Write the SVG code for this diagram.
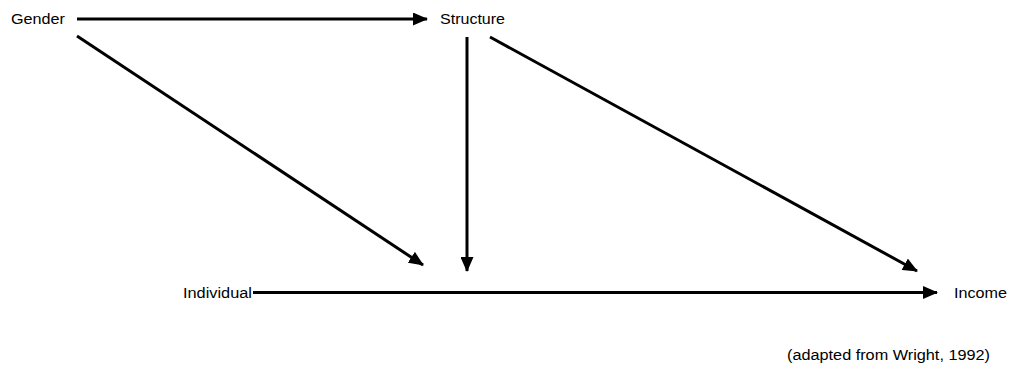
<svg xmlns="http://www.w3.org/2000/svg" width="1010" height="369" viewBox="0 0 1010 369">
<style>
text{font-family:"Liberation Sans",Arial,sans-serif;font-size:14px;fill:#000}
.c line{stroke:#000;stroke-width:3;fill:none;marker-end:url(#ah)}
</style>
<defs>
<marker id="ah" markerUnits="userSpaceOnUse" markerWidth="15" markerHeight="13" viewBox="0 0 15 13" refX="14" refY="6.5" orient="auto">
<path d="M0,0 L15,6.5 L0,13 z" fill="#000"/>
</marker>
</defs>
<rect width="1010" height="369" fill="#fff"/>
<g id="gender"><text x="11" y="24" textLength="54" lengthAdjust="spacingAndGlyphs">Gender</text></g>
<g id="structure"><text x="440" y="24" textLength="65" lengthAdjust="spacingAndGlyphs">Structure</text></g>
<g id="individual"><text x="183" y="298" textLength="69" lengthAdjust="spacingAndGlyphs">Individual</text></g>
<g id="income"><text x="954" y="298" textLength="53" lengthAdjust="spacingAndGlyphs">Income</text></g>
<g id="note"><text x="787" y="360" textLength="203" lengthAdjust="spacingAndGlyphs">(adapted from Wright, 1992)</text></g>
<g class="c" id="connectors">
<line x1="77" y1="19" x2="427" y2="19"/>
<line x1="77" y1="36" x2="423" y2="265"/>
<line x1="467" y1="37" x2="467" y2="271"/>
<line x1="490" y1="37" x2="917" y2="271"/>
<line x1="253" y1="292.5" x2="937" y2="292.5"/>
</g>
</svg>
